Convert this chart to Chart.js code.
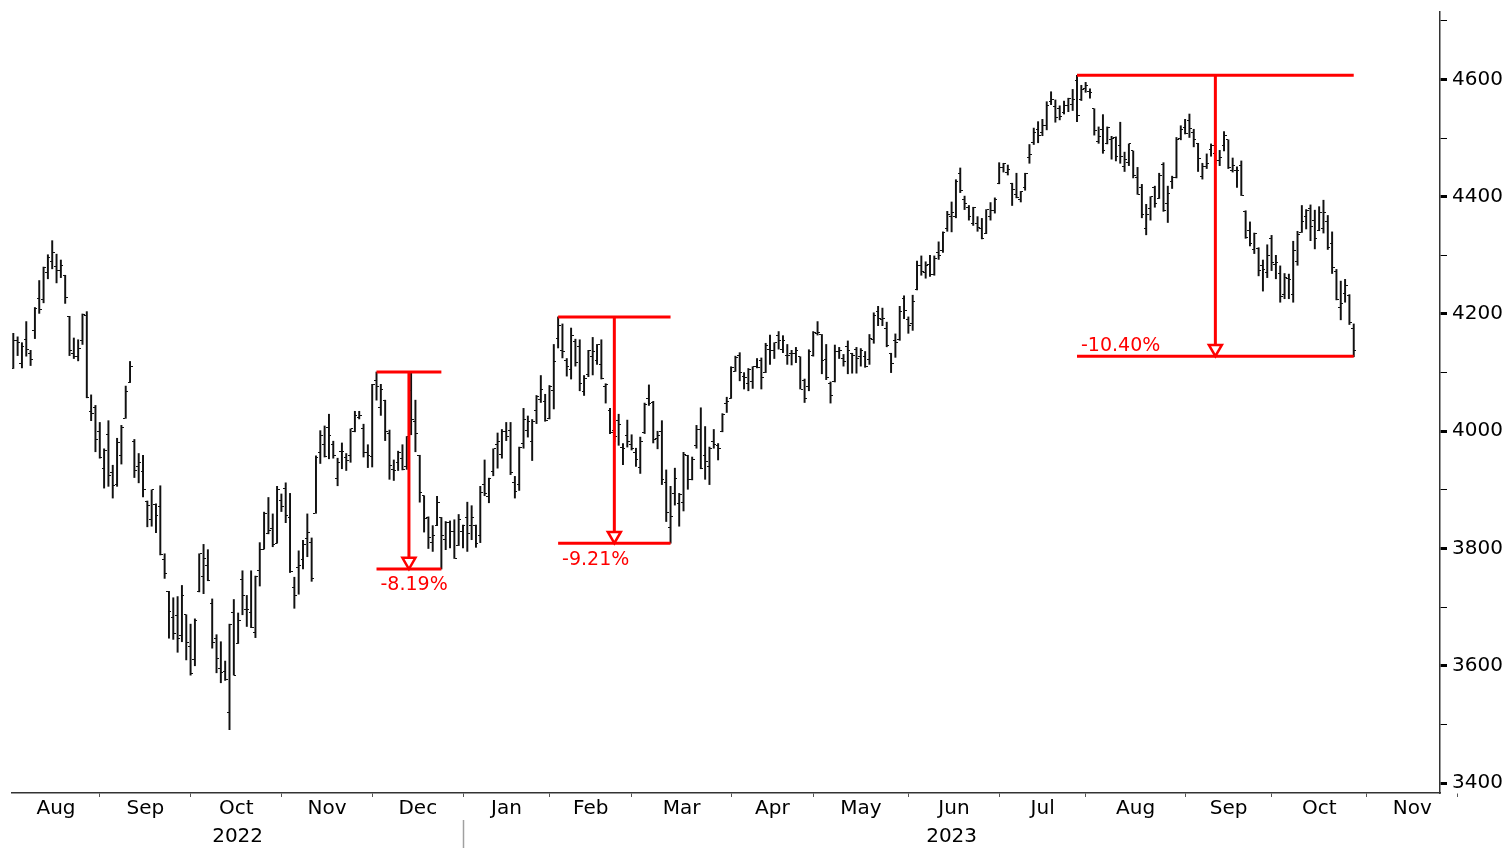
<!DOCTYPE html>
<html>
<head>
<meta charset="utf-8">
<script src="https://cdn.jsdelivr.net/npm/chart.js@4.4.0/dist/chart.umd.min.js"></script>
<style>
  html, body { margin: 0; padding: 0; background: #ffffff; }
  canvas { display: block; }
</style>
</head>
<body>
<canvas id="chart" width="1507" height="848"></canvas>
<script>
// ---------------- DATA ----------------
// US market holidays inside the shown range (trading-day axis)
const holidays = ['2022-09-05','2022-11-24','2022-12-26','2023-01-02','2023-01-16','2023-02-20',
  '2023-04-07','2023-05-29','2023-06-19','2023-07-04','2023-09-04','2023-11-23'];
const firstDate = '2022-08-03';
const lastAxisDate = '2023-11-30';

// OHLC (Aug 3 2022 .. Oct 26 2023), one value per trading day
const openVals = [
  4107,4155,4115,4156,4133,4171,4227,4225,4270,4290,4281,4274,4266,4195,4133,4127,4154,4198,4034,4041,4000,
  3936,3994,3930,3909,3959,4022,4083,3982,3940,3932,3881,3850,3875,3871,3782,3727,3683,3686,3652,3687,3633,
  3610,3726,3753,3771,3707,3646,3595,3591,3520,3690,3638,3747,3696,3690,3657,3762,3799,3825,3834,3808,3882,
  3902,3853,3733,3767,3781,3817,3811,3860,3964,3978,4006,3977,3919,3966,3956,3959,4000,4023,4005,3964,3957,
  4087,4040,4053,3996,3934,3947,3954,3939,4069,4016,3958,3890,3853,3811,3839,3853,3816,3844,3829,3805,3829,
  3853,3840,3840,3823,3910,3889,3932,3977,3961,3999,4002,3912,3909,3979,4002,3982,4036,4054,4050,4021,
  4070,4158,4137,4120,4105,4153,4144,4068,4096,4127,4120,4114,4077,4036,4002,4018,3973,3993,3977,
  3964,3938,3998,4055,4049,3987,3999,3912,3836,3894,3876,3878,3959,3917,3975,4003,3959,3940,3982,3975,3999,4047,4056,
  4102,4129,4094,4081,4085,4111,4121,4100,4140,4137,4164,4140,4130,4132,4132,4127,4087,4076,4129,
  4166,4165,4123,4082,4084,4136,4124,4144,4132,4139,4127,4128,4122,4157,4204,4191,4176,4133,4155,4156,4226,4190,
  4183,4241,4282,4271,4285,4268,4304,4308,4345,4366,4366,4440,4396,4381,4355,4354,4345,4338,4367,4377,4422,
  4450,4442,4423,4404,4395,4415,4467,4492,4515,4509,4521,4563,4554,4551,4543,4556,4558,4598,4566,4585,
  4579,4550,4494,4514,4491,4498,4501,4487,4451,4459,4478,4433,4416,4345,4380,4415,4397,4455,4389,4426,4433,4500,4518,
  4530,4510,4490,4434,4451,4481,4473,4462,4487,4497,4445,4445,4453,4374,4342,4310,4312,4282,4270,4328,
  4284,4269,4234,4260,4234,4289,4339,4367,4380,4360,4342,4346,4358,4321,4273,4211,4235,4232,4175
];
const highVals = [
  4167,4161,4151,4187,4138,4211,4257,4280,4301,4325,4302,4292,4266,4196,4159,4156,4200,4204,4062,4044,4015,
  3970,4018,3942,3988,4010,4077,4119,3986,3962,3959,3881,3900,3876,3907,3791,3727,3716,3718,3737,3687,3671,
  3680,3791,3807,3798,3714,3653,3641,3608,3671,3713,3690,3762,3720,3762,3753,3810,3862,3887,3859,3906,3893,
  3912,3894,3751,3796,3814,3859,3818,3958,4001,4009,4029,3983,3954,3980,3962,4004,4034,4034,4012,3977,4080,
  4101,4080,4053,4002,3951,3966,3977,3991,4101,4053,3959,3890,3854,3839,3889,3853,3846,3847,3849,3858,3840,
  3879,3873,3840,3906,3951,3920,3970,3997,4003,4015,4015,3923,3973,4039,4026,4020,4061,4095,4063,4078,
  4148,4195,4183,4124,4176,4157,4156,4095,4138,4160,4148,4156,4081,4039,4017,4029,3979,4019,3994,
  3971,3990,4048,4079,4051,4000,4018,3934,3906,3937,3894,3964,3959,3956,4010,4040,4008,3973,4003,3979,4030,4058,4110,
  4128,4134,4100,4107,4110,4124,4125,4150,4164,4151,4170,4163,4148,4138,4143,4127,4089,4139,4170,
  4187,4165,4148,4084,4147,4143,4131,4154,4133,4143,4141,4136,4165,4202,4213,4210,4186,4133,4166,4213,4231,4195,
  4232,4290,4299,4289,4300,4299,4323,4340,4375,4391,4429,4449,4401,4385,4382,4366,4363,4378,4390,4398,4458,
  4457,4454,4423,4440,4409,4440,4489,4517,4528,4532,4562,4579,4565,4555,4563,4568,4583,4607,4590,4595,
  4584,4550,4519,4540,4519,4503,4502,4527,4476,4490,4478,4450,4421,4387,4400,4418,4440,4458,4418,4435,4501,4521,4532,
  4541,4515,4491,4457,4473,4490,4487,4479,4511,4497,4466,4451,4461,4376,4357,4338,4313,4292,4318,4334,
  4300,4282,4269,4268,4324,4341,4385,4378,4386,4377,4383,4394,4368,4340,4276,4256,4259,4233,4183
];
const lowVals = [
  4107,4129,4108,4128,4112,4158,4201,4219,4260,4277,4253,4262,4218,4129,4124,4120,4148,4057,4018,3965,3954,
  3903,3906,3886,3906,3944,4022,4083,3921,3912,3888,3837,3838,3827,3789,3749,3647,3645,3623,3641,3610,3584,
  3600,3726,3723,3745,3630,3588,3571,3575,3491,3584,3638,3687,3667,3665,3648,3736,3799,3825,3803,3809,3863,
  3844,3759,3698,3722,3765,3786,3744,3860,3945,3956,3953,3954,3907,3936,3933,3947,3999,4021,3956,3938,3939,
  4053,4027,3984,3918,3916,3933,3934,3935,3994,3965,3879,3828,3800,3795,3839,3765,3798,3801,3783,3805,3801,
  3795,3815,3802,3810,3890,3878,3924,3937,3954,3984,3926,3886,3899,3971,3990,3950,4013,4049,4017,4021,
  4038,4142,4125,4094,4089,4111,4069,4061,4093,4096,4114,4089,4048,3996,3982,3976,3943,3973,3968,
  3940,3928,3996,4044,3980,3970,3909,3846,3809,3874,3838,3864,3901,3917,3971,3936,3918,3909,3971,3951,3999,4032,4056,
  4102,4086,4072,4069,4073,4108,4072,4100,4114,4124,4140,4134,4114,4113,4117,4072,4049,4069,4128,
  4164,4098,4088,4048,4084,4124,4111,4098,4099,4099,4111,4109,4114,4150,4180,4180,4144,4100,4126,4155,4192,4167,
  4172,4241,4266,4261,4264,4266,4293,4305,4341,4340,4364,4407,4378,4360,4351,4341,4328,4337,4360,4372,4422,
  4442,4437,4385,4398,4391,4411,4457,4489,4492,4504,4514,4557,4527,4531,4541,4545,4547,4528,4564,4578,
  4568,4505,4491,4474,4490,4464,4461,4457,4443,4453,4432,4404,4364,4335,4360,4382,4397,4375,4356,4414,4432,4497,4507,
  4501,4485,4443,4430,4448,4469,4456,4453,4478,4448,4442,4416,4402,4329,4316,4303,4265,4239,4262,4274,
  4260,4220,4226,4226,4220,4283,4339,4345,4325,4311,4342,4338,4310,4269,4224,4190,4220,4182,4127
];
const closeVals = [
  4155,4152,4145,4140,4122,4210,4207,4280,4297,4305,4274,4283,4228,4138,4128,4141,4199,4058,4031,3986,3955,
  3967,3924,3908,3980,4006,4067,4110,3933,3946,3901,3873,3900,3856,3790,3758,3693,3655,3647,3719,3640,3586,
  3678,3791,3783,3745,3640,3612,3589,3577,3670,3584,3678,3720,3696,3666,3753,3798,3859,3831,3807,3901,3872,
  3856,3760,3720,3771,3807,3828,3749,3956,3993,3957,3992,3959,3947,3965,3950,4004,4027,4026,3964,3958,4080,
  4076,4072,3999,3941,3933,3964,3934,3991,4020,3996,3896,3852,3818,3822,3879,3823,3845,3829,3783,3849,3840,
  3825,3853,3808,3895,3893,3919,3970,3983,3999,3991,3929,3898,3973,4020,4017,4016,4060,4071,4018,4077,
  4119,4180,4136,4111,4164,4117,4082,4090,4137,4136,4148,4090,4079,3998,3991,4012,3970,3982,3970,
  3951,3982,4046,4048,3986,3992,3918,3862,3855,3920,3892,3960,3917,3952,4003,3937,3949,3971,3977,3971,4028,4051,4109,
  4125,4101,4091,4105,4110,4109,4092,4146,4138,4151,4154,4155,4130,4133,4137,4072,4056,4136,4169,
  4168,4120,4091,4061,4136,4138,4119,4137,4130,4124,4137,4110,4158,4198,4192,4193,4146,4115,4151,4205,4206,4180,
  4221,4282,4273,4283,4268,4294,4299,4339,4369,4373,4426,4410,4389,4366,4381,4348,4328,4378,4377,4396,4450,
  4456,4446,4412,4399,4409,4440,4472,4510,4505,4522,4555,4566,4535,4536,4555,4567,4566,4538,4582,4589,
  4577,4513,4502,4478,4518,4499,4468,4469,4464,4490,4437,4404,4370,4370,4400,4388,4436,4376,4406,4433,4497,4515,4508,
  4516,4497,4465,4451,4457,4487,4462,4467,4505,4450,4453,4444,4402,4330,4320,4337,4274,4275,4300,4288,
  4288,4229,4263,4258,4308,4336,4358,4377,4349,4328,4373,4373,4314,4279,4224,4217,4248,4186,4137
];

// Tick labels
const monthLabels = ['Aug','Sep','Oct','Nov','Dec','Jan','Feb','Mar','Apr','May','Jun','Jul','Aug','Sep','Oct','Nov'];
const yearLabels = ['2022','2023'];
const yTickValues = [3400,3500,3600,3700,3800,3900,4000,4100,4200,4300,4400,4500,4600,4700];
const yLabelEvery = 200;

// Drawdown annotations
const annPeakDates   = ['2022-12-01','2023-02-02','2023-07-27'];
const annTroughDates = ['2022-12-22','2023-03-13','2023-10-26'];
const annPeakValues   = [4101, 4195, 4607];
const annTroughValues = [3765, 3809, 4128];
const annLabels = ['-8.19%','-9.21%','-10.40%'];
const annLabelSide = ['below','below','above'];

// ---------------- BUILD ----------------
function tradingDays(start, end, hol) {
  const out = [];
  let d = new Date(start + 'T00:00:00Z');
  const e = new Date(end + 'T00:00:00Z');
  while (d <= e) {
    const wd = d.getUTCDay();
    const s = d.toISOString().slice(0, 10);
    if (wd !== 0 && wd !== 6 && !hol.includes(s)) out.push(s);
    d = new Date(d.getTime() + 86400000);
  }
  return out;
}
const dates = tradingDays(firstDate, lastAxisDate, holidays);

const X_MIN = -0.30, X_MAX = 329.95;
const Y_MIN = 3383, Y_MAX = 4715;
const BOUNDARY_SHIFT = 0.95;

// month boundaries (tick marks) and label centres
const monthBounds = [];
for (let k = 1; k < dates.length; k++) {
  if (dates[k].slice(0, 7) !== dates[k - 1].slice(0, 7)) monthBounds.push(k - BOUNDARY_SHIFT);
}
monthBounds.push(dates.length - BOUNDARY_SHIFT);
const monthCenters = [];
let prev = X_MIN;
monthBounds.forEach(b => { monthCenters.push((prev + b) / 2); prev = b; });
const yearSplit = monthBounds[4]; // Dec -> Jan boundary
const yearTickValues = [(X_MIN + yearSplit) / 2, yearSplit, (yearSplit + X_MAX) / 2];
const yearTickText = [yearLabels[0], '', yearLabels[1]];

// open / close tick glyphs
function tickGlyph(side) {
  const c = document.createElement('canvas');
  c.width = 5; c.height = 1;
  const g = c.getContext('2d');
  g.fillStyle = '#111111';
  g.fillRect(side === 'open' ? 0 : 3, 0, 2, 1);
  return c;
}
const openGlyph = tickGlyph('open');
const closeGlyph = tickGlyph('close');

const idx = d => dates.indexOf(d);
const RED = '#ff0000';
const pxPerVal = (793 - 12) / (Y_MAX - Y_MIN);
const ARROW_R = 7.5;

const datasets = [];
// annotations
annLabels.forEach((lab, i) => {
  const p = idx(annPeakDates[i]), t = idx(annTroughDates[i]);
  const mid = (p + t) / 2;
  datasets.push({ type: 'scatter', order: 0, data: [{ x: mid, y: annTroughValues[i] + ARROW_R / pxPerVal }],
    pointStyle: 'triangle', rotation: 180, radius: ARROW_R, pointBackgroundColor: '#ffffff',
    pointBorderColor: RED, pointBorderWidth: 2.5 });
  const lineBase = { type: 'line', order: 1, borderColor: RED, borderWidth: 3, pointRadius: 0, tension: 0, fill: false, borderCapStyle: 'butt' };
  datasets.push(Object.assign({}, lineBase, { data: [{ x: p, y: annPeakValues[i] }, { x: t, y: annPeakValues[i] }] }));
  datasets.push(Object.assign({}, lineBase, { data: [{ x: p, y: annTroughValues[i] }, { x: t, y: annTroughValues[i] }] }));
  datasets.push(Object.assign({}, lineBase, { data: [{ x: mid, y: annPeakValues[i] }, { x: mid, y: annTroughValues[i] + 4 / pxPerVal }] }));
});
// OHLC
datasets.push({ type: 'scatter', order: 2, data: openVals.map((v, k) => ({ x: k, y: v })), pointStyle: openGlyph });
datasets.push({ type: 'scatter', order: 2, data: closeVals.map((v, k) => ({ x: k, y: v })), pointStyle: closeGlyph });
datasets.push({ type: 'bar', order: 3, data: highVals.map((h, k) => ({ x: k, y: [lowVals[k], h] })),
  backgroundColor: '#111111', borderWidth: 0, barThickness: 1.3, grouped: false });

const annotationText = {
  id: 'annotationText',
  afterDatasetsDraw(chart) {
    const { ctx, scales } = chart;
    ctx.save();
    ctx.font = '19px "DejaVu Sans"';
    ctx.fillStyle = RED;
    ctx.textAlign = 'left';
    annLabels.forEach((t, i) => {
      const px = scales.x.getPixelForValue(idx(annPeakDates[i])) + 4;
      const py = scales.y.getPixelForValue(annTroughValues[i]);
      if (annLabelSide[i] === 'below') { ctx.textBaseline = 'top'; ctx.fillText(t, px, py + 7); }
      else { ctx.textBaseline = 'alphabetic'; ctx.fillText(t, px, py - 5); }
    });
    ctx.restore();
  }
};
const crispImages = { id: 'crispImages', beforeDatasetsDraw(chart) { chart.ctx.imageSmoothingEnabled = false; } };

function zeroPad(s) { s.paddingLeft = 0; s.paddingRight = 0; s.paddingTop = 0; s.paddingBottom = 0; }

Chart.defaults.font.family = '"DejaVu Sans", Verdana, sans-serif';
Chart.defaults.color = '#000000';

new Chart(document.getElementById('chart'), {
  type: 'bar',
  data: { datasets },
  plugins: [annotationText, crispImages],
  options: {
    responsive: false,
    animation: false,
    events: [],
    layout: { padding: { left: 12, top: 12, right: 0, bottom: 0 } },
    plugins: { legend: { display: false }, tooltip: { enabled: false }, title: { display: false } },
    scales: {
      x: {
        type: 'linear', position: 'bottom', min: X_MIN, max: X_MAX, offset: false, weight: 0,
        afterBuildTicks: s => { s.ticks = monthBounds.map(v => ({ value: v })); },
        ticks: { display: false },
        grid: { drawOnChartArea: false, drawTicks: true, tickLength: 4, tickColor: '#555', offset: false },
        border: { display: true, color: '#333', width: 1.5 },
        afterFit: s => { s.height = 5; zeroPad(s); }
      },
      xm: {
        type: 'linear', position: 'bottom', min: X_MIN, max: X_MAX, offset: false, weight: 1,
        afterBuildTicks: s => { s.ticks = monthCenters.map(v => ({ value: v })); },
        ticks: { callback: (v, i) => monthLabels[i], font: { size: 20 }, color: '#000', padding: -1,
          autoSkip: false, maxRotation: 0, minRotation: 0 },
        grid: { display: false, drawTicks: false, offset: false },
        border: { display: false },
        afterFit: s => { s.height = 22; zeroPad(s); }
      },
      xy: {
        type: 'linear', position: 'bottom', min: X_MIN, max: X_MAX, offset: false, weight: 2,
        afterBuildTicks: s => { s.ticks = yearTickValues.map(v => ({ value: v })); },
        ticks: { callback: (v, i) => yearTickText[i], font: { size: 20 }, color: '#000', padding: -23,
          autoSkip: false, maxRotation: 0, minRotation: 0 },
        grid: { drawOnChartArea: false, drawTicks: true, tickLength: 28, tickWidth: 1.5, offset: false,
          tickColor: ctx => (ctx.index === 1 ? '#a0a0a0' : 'rgba(0,0,0,0)') },
        border: { display: false },
        afterFit: s => { s.height = 28; zeroPad(s); }
      },
      y: {
        type: 'linear', position: 'right', min: Y_MIN, max: Y_MAX, weight: 0,
        afterBuildTicks: s => { s.ticks = yTickValues.map(v => ({ value: v })); },
        ticks: { callback: v => (v % yLabelEvery === 0 ? String(v) : ''), font: { size: 20 }, color: '#000', padding: 5 },
        grid: { drawOnChartArea: false, drawTicks: true, tickLength: 7, tickColor: '#000',
          tickWidth: ctx => (ctx.tick && ctx.tick.value % yLabelEvery === 0 ? 3 : 1) },
        border: { display: true, color: '#333', width: 1.5 },
        afterFit: s => { s.width = 67; zeroPad(s); }
      }
    }
  }
});
</script>
</body>
</html>
